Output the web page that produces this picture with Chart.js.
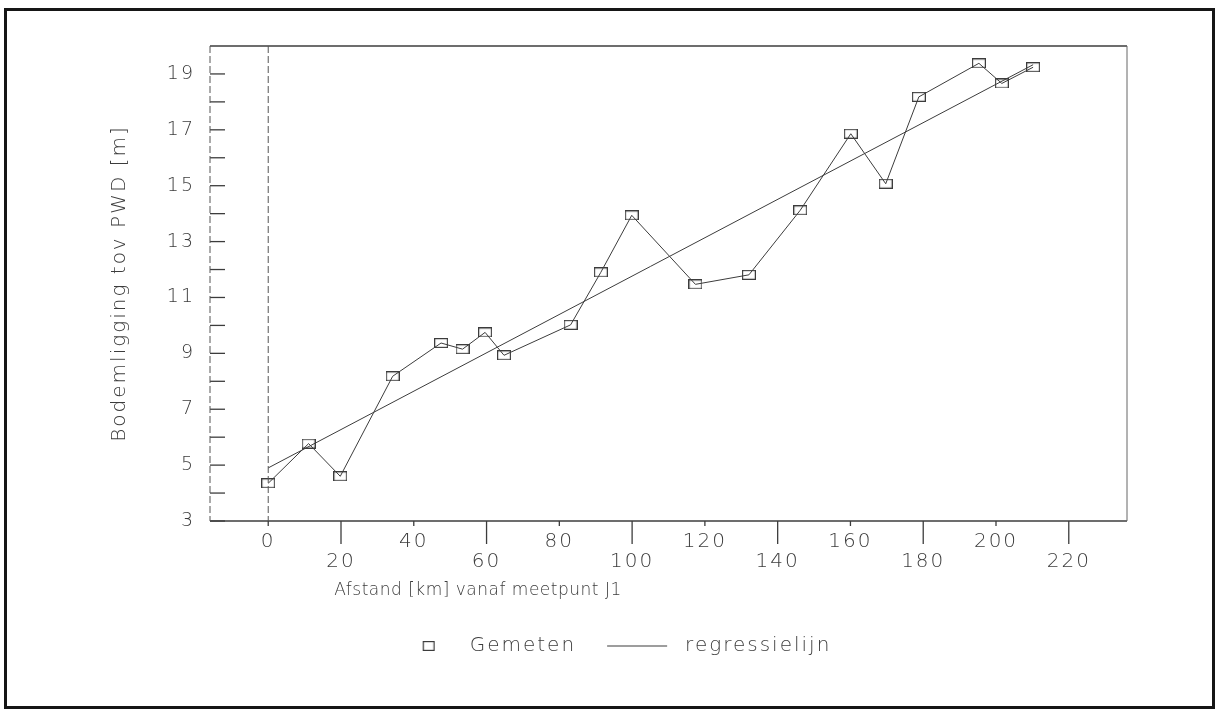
<!DOCTYPE html>
<html>
<head>
<meta charset="utf-8">
<title>Bodemligging tov PWD</title>
<script src="https://cdn.jsdelivr.net/npm/chart.js@4/dist/chart.umd.min.js"></script>
<style>
  html, body { margin: 0; padding: 0; background: #fff; }
  #wrap { position: relative; width: 1219px; height: 714px; overflow: hidden; background: #fff; }
  #frame { position: absolute; left: 4px; top: 8px; width: 1211px; height: 701px;
           box-sizing: border-box; border: 3px solid #161616; }
  #c { position: absolute; left: 0; top: 0; }
</style>
</head>
<body>
<div id="wrap">
  <div id="frame"></div>
  <canvas id="c" width="1219" height="714"></canvas>
</div>
<script>
// Gemeten bodemligging langs het traject
const afstandKm    = [0, 11.1, 19.8, 34.2, 47.5, 53.4, 59.6, 64.8, 83.1, 91.4,
                      99.9, 117.4, 132.1, 146.2, 160.1, 169.7, 178.8, 195.3, 201.6, 210.2];
const bodemligging = [4.35, 5.77, 4.60, 8.18, 9.37, 9.15, 9.75, 8.93, 10.02, 11.90,
                      13.94, 11.47, 11.81, 14.12, 16.86, 15.07, 18.18, 19.38, 18.66, 19.24];

// Regressielijn: begin- en eindpunt
const regressieKm = [0, 210.2];
const regressieM  = [4.90, 19.33];

// As-indeling
const xTicks = [0, 20, 40, 60, 80, 100, 120, 140, 160, 180, 200, 220];
const yTicks = [3, 4, 5, 6, 7, 8, 9, 10, 11, 12, 13, 14, 15, 16, 17, 18, 19];
const yLabels = [3, 5, 7, 9, 11, 13, 15, 17, 19];

const serieNamen = ['Gemeten', 'regressielijn'];
const xTitel = 'Afstand [km] vanaf meetpunt J1';
const yTitel = 'Bodemligging tov PWD [m]';

const INK = '#3c3c3c';
const FONT = 'DejaVu Sans';

// Open rechthoekje als meetpuntsymbool
function makeMarker(w, h, canvasW) {
  const c = document.createElement('canvas');
  c.width = canvasW || w; c.height = h;
  const g = c.getContext('2d');
  g.strokeStyle = INK; g.lineWidth = 1.2;
  const ox = canvasW ? Math.round(canvasW * 0.557 - w / 2) : 0;
  g.strokeRect(ox + 0.6, 0.6, w - 1.2, h - 1.2);
  return c;
}
const marker = makeMarker(14, 10);
const legendMarker = makeMarker(12, 10, 70);

// Lijnstuk voor de legenda
const legendLine = (() => {
  const c = document.createElement('canvas');
  c.width = 70; c.height = 4;
  const g = c.getContext('2d');
  g.strokeStyle = INK; g.lineWidth = 1.2;
  g.beginPath(); g.moveTo(2, 2); g.lineTo(62, 2); g.stroke();
  return c;
})();

const spacing = {
  id: 'spacing',
  beforeLayout(chart) { chart.ctx.letterSpacing = '2px'; },
  beforeDraw(chart) { chart.ctx.letterSpacing = '2px'; }
};

// Kader, maatstreepjes en stippellijnen in plotterstijl
const plotterKader = {
  id: 'plotterKader',
  afterDraw(chart) {
    const { ctx, chartArea: a, scales: { x, y } } = chart;
    const seg = (x1, y1, x2, y2) => { ctx.beginPath(); ctx.moveTo(x1, y1); ctx.lineTo(x2, y2); ctx.stroke(); };
    ctx.save();
    ctx.strokeStyle = INK;

    // binnenwaartse streepjes op de y-as
    ctx.lineWidth = 1.3;
    y.ticks.forEach(t => {
      const py = y.getPixelForValue(t.value);
      seg(a.left, py, a.left + 15, py);
    });

    // streepjes onder de x-as: kort bij bovenste rij, lang bij onderste rij
    x.ticks.forEach((t, i) => {
      const px = x.getPixelForValue(t.value);
      seg(px, a.bottom, px, a.bottom + (i % 2 ? 23 : 5));
    });

    // boven- en onderrand
    ctx.lineWidth = 1.6;
    seg(a.left, a.top, a.right, a.top);
    seg(a.left, a.bottom, a.right, a.bottom);

    // rechterrand
    ctx.lineWidth = 1;
    ctx.strokeStyle = '#666';
    seg(a.right, a.top, a.right, a.bottom);

    // linker as en nullijn gestippeld
    ctx.setLineDash([7, 3]);
    ctx.strokeStyle = '#555';
    seg(a.left, a.top, a.left, a.bottom);
    const x0 = x.getPixelForValue(0);
    seg(x0, a.top, x0, a.bottom);
    ctx.setLineDash([]);

    // titel van de x-as
    ctx.letterSpacing = '0.5px';
    ctx.fillStyle = INK;
    ctx.font = '200 17px "' + FONT + '"';
    ctx.textAlign = 'center';
    ctx.textBaseline = 'middle';
    ctx.fillText(xTitel, a.left + 268, a.bottom + 70);
    ctx.restore();
  }
};

new Chart(document.getElementById('c'), {
  type: 'scatter',
  data: {
    datasets: [
      {
        label: serieNamen[0],
        data: afstandKm.map((k, i) => ({ x: k, y: bodemligging[i] })),
        showLine: true,
        borderColor: INK,
        borderWidth: 1,
        pointStyle: marker,
        pointRadius: 6
      },
      {
        label: serieNamen[1],
        data: regressieKm.map((k, i) => ({ x: k, y: regressieM[i] })),
        showLine: true,
        borderColor: INK,
        borderWidth: 1,
        pointRadius: 0
      }
    ]
  },
  options: {
    responsive: false,
    animation: false,
    events: [],
    layout: { padding: { left: 94, top: 46, right: 92, bottom: 48 } },
    scales: {
      x: {
        type: 'linear',
        min: -16, max: 236,
        afterBuildTicks: s => { s.ticks = xTicks.map(v => ({ value: v })); },
        afterFit: s => { s.height = 86; },
        grid: { display: false, drawTicks: false },
        border: { display: false },
        ticks: {
          autoSkip: false, maxRotation: 0, padding: 11,
          color: INK,
          font: { family: FONT, size: 20, weight: 200, lineHeight: '20px' },
          callback: (v, i) => (i % 2 ? ['', String(v)] : String(v))
        }
      },
      y: {
        type: 'linear',
        min: 3, max: 20,
        afterBuildTicks: s => { s.ticks = yTicks.map(v => ({ value: v })); },
        afterFit: s => { s.width = 116; },
        grid: { display: false, drawTicks: false },
        border: { display: false },
        ticks: {
          autoSkip: false, padding: 15,
          color: INK,
          font: { family: FONT, size: 19, weight: 200 },
          callback: v => (yLabels.includes(v) ? String(v) : '')
        },
        title: {
          display: true, text: yTitel, color: INK,
          font: { family: FONT, size: 20, weight: 200, lineHeight: 1.2 },
          padding: { top: 14, bottom: 0 }
        }
      }
    },
    plugins: {
      tooltip: { enabled: false },
      legend: {
        position: 'bottom',
        labels: {
          usePointStyle: true,
          pointStyleWidth: 70,
          boxHeight: 20,
          padding: 29,
          color: INK,
          font: { family: FONT, size: 20, weight: 200 },
          generateLabels: () => [
            { text: serieNamen[0], pointStyle: legendMarker, fillStyle: 'transparent',
              strokeStyle: 'transparent', lineWidth: 0, hidden: false, datasetIndex: 0, fontColor: INK },
            { text: serieNamen[1], pointStyle: legendLine, fillStyle: 'transparent',
              strokeStyle: 'transparent', lineWidth: 0, hidden: false, datasetIndex: 1, fontColor: INK }
          ]
        }
      }
    }
  },
  plugins: [spacing, plotterKader]
});
</script>
</body>
</html>
